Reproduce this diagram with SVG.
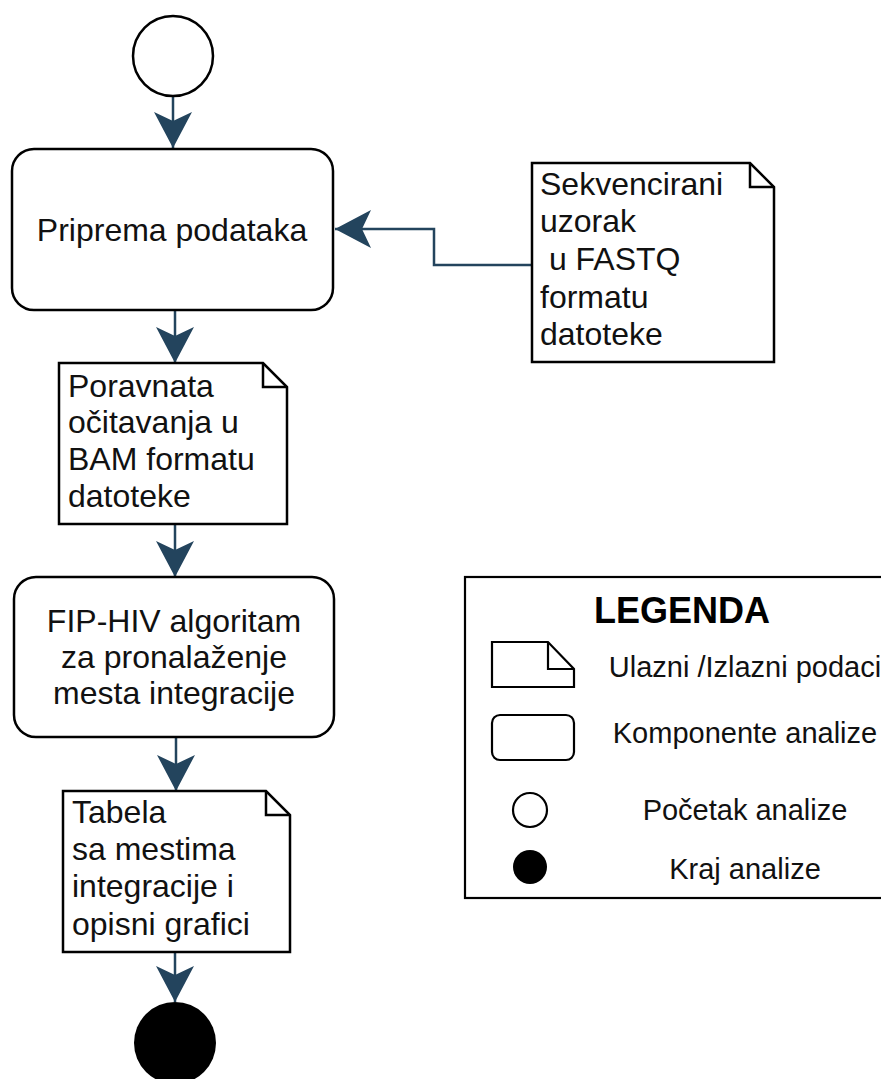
<svg xmlns="http://www.w3.org/2000/svg" width="881" height="1079" viewBox="0 0 881 1079">
<style>
.shape{fill:#fff;stroke:#000;stroke-width:2.5}
.lshape{fill:#fff;stroke:#000;stroke-width:2.2}
.fold{fill:none;stroke:#000;stroke-width:2.5}
.conn{fill:none;stroke:#23445d;stroke-width:2.5}
.t{font-family:"Liberation Sans",Arial,sans-serif;font-size:32px;fill:#111}
.lt{font-family:"Liberation Sans",Arial,sans-serif;font-size:29px;fill:#111;text-anchor:middle}
.title{font-family:"Liberation Sans",Arial,sans-serif;font-size:36px;font-weight:bold;fill:#000;text-anchor:middle}
</style>
<defs>
<marker id="arr" markerUnits="userSpaceOnUse" viewBox="0 0 40 40" markerWidth="40" markerHeight="40" refX="38" refY="20" orient="auto">
<path d="M38,20 L2,1 L11,20 L2,39 Z" fill="#23445d"/>
</marker>
</defs>
<rect width="881" height="1079" fill="#fff"/>

<g id="connectors">
<line class="conn" x1="173" y1="96" x2="173" y2="148" marker-end="url(#arr)"/>
<line class="conn" x1="175" y1="310" x2="175" y2="363" marker-end="url(#arr)"/>
<polyline class="conn" points="532,265 434,265 434,229 335,229" marker-end="url(#arr)"/>
<line class="conn" x1="175" y1="524" x2="175" y2="577" marker-end="url(#arr)"/>
<line class="conn" x1="176" y1="737" x2="176" y2="791" marker-end="url(#arr)"/>
<line class="conn" x1="175" y1="952" x2="175" y2="1002" marker-end="url(#arr)"/>
</g>

<g id="start">
<circle class="shape" cx="173" cy="56" r="40"/>
</g>

<g id="priprema">
<rect class="shape" x="12" y="149" width="321" height="161" rx="22"/>
<text class="t" x="172" y="241" text-anchor="middle">Priprema podataka</text>
</g>

<g id="fastq">
<path class="shape" d="M532,163 H750 L774,187 V362 H532 Z"/>
<path class="fold" d="M750,163 V187 H774"/>
<text class="t" x="540" y="195">Sekvencirani</text>
<text class="t" x="540" y="232">uzorak</text>
<text class="t" x="540" y="270" xml:space="preserve"> u FASTQ</text>
<text class="t" x="540" y="308">formatu</text>
<text class="t" x="540" y="345">datoteke</text>
</g>

<g id="bam">
<path class="shape" d="M59,363 H263 L287,387 V524 H59 Z"/>
<path class="fold" d="M263,363 V387 H287"/>
<text class="t" x="68" y="397">Poravnata</text>
<text class="t" x="68" y="433">očitavanja u</text>
<text class="t" x="68" y="470">BAM formatu</text>
<text class="t" x="68" y="507">datoteke</text>
</g>

<g id="fiphiv">
<rect class="shape" x="14" y="577" width="320" height="160" rx="22"/>
<text class="t" x="174" y="632" text-anchor="middle">FIP-HIV algoritam</text>
<text class="t" x="174" y="668" text-anchor="middle">za pronalaženje</text>
<text class="t" x="174" y="704" text-anchor="middle">mesta integracije</text>
</g>

<g id="tabela">
<path class="shape" d="M63,791 H266 L290,815 V952 H63 Z"/>
<path class="fold" d="M266,791 V815 H290"/>
<text class="t" x="72" y="823">Tabela</text>
<text class="t" x="72" y="860">sa mestima</text>
<text class="t" x="72" y="897">integracije i</text>
<text class="t" x="72" y="935">opisni grafici</text>
</g>

<g id="end">
<circle cx="175" cy="1043" r="41" fill="#000"/>
</g>

<g id="legend">
<rect class="lshape" x="465" y="577" width="440" height="321"/>
<text class="title" x="682" y="623">LEGENDA</text>
<path class="lshape" d="M492,642 H548 L574,669 V687 H492 Z"/>
<path class="fold" style="stroke-width:2.2" d="M548,642 V669 H574"/>
<text class="lt" x="745" y="677">Ulazni /Izlazni podaci</text>
<rect class="lshape" x="492" y="715" width="82" height="45" rx="8"/>
<text class="lt" x="745" y="743">Komponente analize</text>
<circle class="lshape" cx="530" cy="810" r="17"/>
<text class="lt" x="745" y="820">Početak analize</text>
<circle cx="530" cy="867" r="17" fill="#000"/>
<text class="lt" x="745" y="879">Kraj analize</text>
</g>
</svg>
